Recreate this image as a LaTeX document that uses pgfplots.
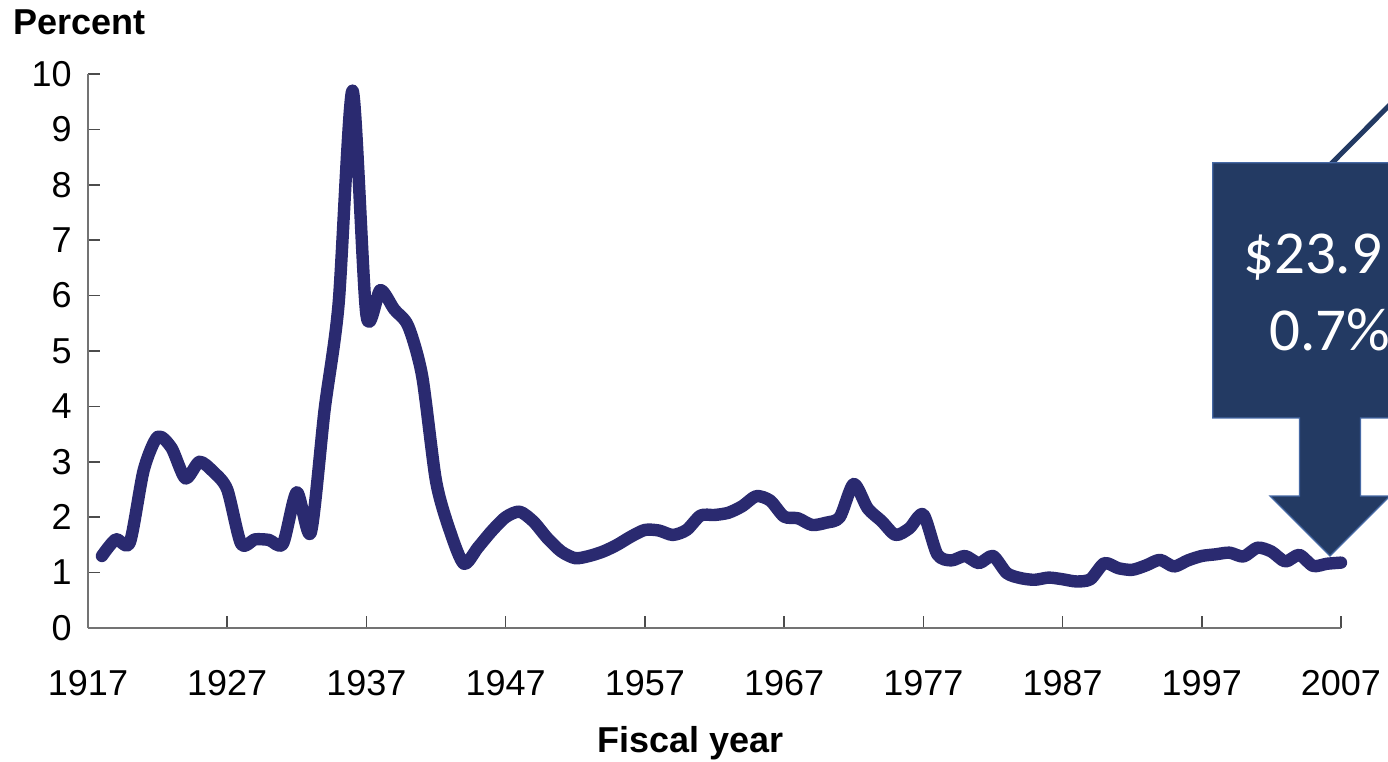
\documentclass[border=0pt]{standalone}
\usepackage{fontspec}
\setmainfont{Liberation Sans}
\newfontfamily\calibri{Carlito}
\usepackage{pgfplots}
\pgfplotsset{compat=1.18}
\definecolor{lineblue}{RGB}{42,42,112}
\definecolor{boxblue}{RGB}{35,58,99}
\definecolor{boxedge}{RGB}{70,105,165}
\begin{document}
\begin{tikzpicture}
\useasboundingbox (-44pt,-66.5pt) rectangle (650pt,314pt);
\begin{axis}[
  at={(0,0)}, anchor=south west, scale only axis,
  width=626.5pt, height=277pt,
  xmin=1917, xmax=2007, ymin=0, ymax=10,
  axis x line=bottom, axis y line=left,
  axis line style={-, draw=black!55, line width=1pt},
  xtick={1917,1927,1937,1947,1957,1967,1977,1987,1997,2007},
  xticklabels={1917,1927,1937,1947,1957,1967,1977,1987,1997,2007},
  ytick={0,1,2,3,4,5,6,7,8,9,10},
  yticklabels={0,1,2,3,4,5,6,7,8,9,10},
  tick align=inside,
  major tick length=6pt,
  tick style={draw=black!70, line width=0.8pt},
  ticklabel style={font=\fontsize{18}{20}\selectfont, inner sep=0pt},
  xticklabel style={anchor=base, yshift=-33.5pt},
  yticklabel style={anchor=east, xshift=-8pt},
  clip=false,
]
\addplot[lineblue, line width=6.2pt, smooth, tension=0.45, line cap=round, line join=round] coordinates {
(1918,1.30) (1919,1.60) (1920,1.54) (1921,2.85) (1922,3.45) (1923,3.25)
(1924,2.70) (1925,3.00) (1926,2.82) (1927,2.50) (1928,1.52) (1929,1.60)
(1930,1.59) (1931,1.52) (1932,2.45) (1933,1.72) (1934,3.95) (1935,5.85)
(1936,9.70) (1937,5.65) (1938,6.10) (1939,5.75) (1940,5.45) (1941,4.55)
(1942,2.65) (1943,1.75) (1944,1.16) (1945,1.45) (1946,1.75) (1947,2.00)
(1948,2.10) (1949,1.92) (1950,1.62) (1951,1.38) (1952,1.26) (1953,1.30)
(1954,1.38) (1955,1.50) (1956,1.65) (1957,1.77) (1958,1.76) (1959,1.68)
(1960,1.77) (1961,2.03) (1962,2.04) (1963,2.08) (1964,2.20) (1965,2.38)
(1966,2.30) (1967,2.01) (1968,1.98) (1969,1.86) (1970,1.90) (1971,2.00)
(1972,2.60) (1973,2.16) (1974,1.93) (1975,1.68) (1976,1.80) (1977,2.05)
(1978,1.33) (1979,1.22) (1980,1.30) (1981,1.17) (1982,1.30) (1983,0.99)
(1984,0.90) (1985,0.87) (1986,0.91) (1987,0.88) (1988,0.84) (1989,0.88)
(1990,1.17) (1991,1.08) (1992,1.05) (1993,1.13) (1994,1.23) (1995,1.11)
(1996,1.22) (1997,1.30) (1998,1.33) (1999,1.36) (2000,1.29) (2001,1.45)
(2002,1.38) (2003,1.20) (2004,1.32) (2005,1.12) (2006,1.16) (2007,1.18)
};
\end{axis}
\node[anchor=base west, inner sep=0pt, font=\bfseries\fontsize{18}{20}\selectfont] at (-37.5pt,296.5pt) {Percent};
\node[anchor=base west, inner sep=0pt, font=\bfseries\fontsize{18}{20}\selectfont] at (254.4pt,-62pt) {Fiscal year};
% callout
\draw[boxblue, line width=2.5pt] (621.5pt,232pt) -- (700pt,311pt);
\path[fill=boxblue, draw=boxedge, line width=0.6pt]
  (562.35pt,232.65pt) -- (720pt,232.65pt) -- (720pt,105pt) -- (636.25pt,105pt)
  -- (636.25pt,66pt) -- (651pt,66pt) -- (621pt,36pt) -- (591pt,66pt)
  -- (605.75pt,66pt) -- (605.75pt,105pt) -- (562.35pt,105pt) -- cycle;
\node[anchor=base west, inner sep=0pt, text=white, font=\calibri\fontsize{30.5}{36}\selectfont] at (577.4pt,177.35pt) {\$23.9};
\node[anchor=base west, inner sep=0pt, text=white, font=\calibri\fontsize{30.5}{36}\selectfont] at (590.4pt,138.65pt) {0.7\%};
\end{tikzpicture}
\end{document}
